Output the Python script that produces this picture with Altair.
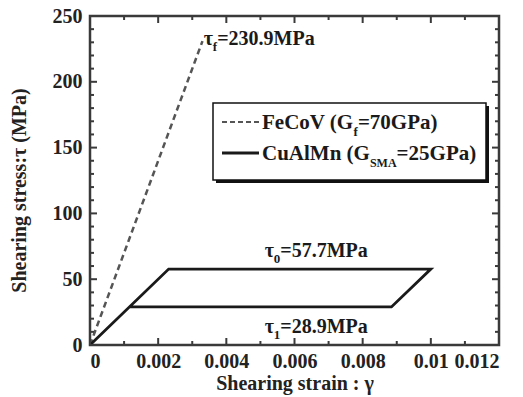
import altair as alt
import pandas as pd

# ---- data ----
fecov_strain = [0.0, 0.0033]
fecov_stress = [0.0, 230.9]
sma_strain = [0.0, 0.002308, 0.01, 0.008844, 0.001156]
sma_stress = [0.0, 57.7, 57.7, 28.9, 28.9]
x_major = [0, 0.002, 0.004, 0.006, 0.008, 0.01, 0.012]
x_minor = [0.001, 0.003, 0.005, 0.007, 0.009, 0.011]
y_major = [0, 50, 100, 150, 200, 250]
y_minor = [10, 20, 30, 40, 60, 70, 80, 90, 110, 120, 130, 140, 160, 170, 180, 190, 210, 220, 230, 240]

FONT = "Liberation Serif"
AX = "#3a3a3a"
INK = "#1a1a1a"
W, H = 409, 329

# approximate advance widths (em) of Times/Liberation Serif Bold, used to chain sub-scripted text pieces
EM = {"F": .611, "e": .444, "C": .722, "o": .5, "V": .722, " ": .25, "(": .333, "G": .778, "f": .333,
      "=": .570, "P": .611, "a": .5, ")": .333, "u": .556, "A": .722, "l": .278, "M": .944, "n": .556,
      "S": .556, ".": .25, "τ": .45}


def tw(s, size):
    return sum(EM.get(c, .5) for c in s) * size


fe = pd.DataFrame({"strain": fecov_strain, "stress": fecov_stress})
sma = pd.DataFrame({"strain": sma_strain, "stress": sma_stress, "o": list(range(len(sma_strain)))})

xs = alt.Scale(domain=[0, 0.012], nice=False, zero=False)
ys = alt.Scale(domain=[0, 250], nice=False, zero=False)


def X(axis, f="strain"):
    return alt.X(f + ":Q", scale=xs, axis=axis)


def Y(axis, f="stress"):
    return alt.Y(f + ":Q", scale=ys, axis=axis)


main_x = alt.Axis(orient="bottom", values=x_major, format="~g", domain=False, ticks=False, grid=False,
                  labelFont=FONT, labelFontSize=20, labelFontWeight="bold", labelColor="#222",
                  labelPadding=6, title="Shearing strain : γ", titleFont=FONT, titleFontSize=20,
                  titleFontWeight="bold", titleColor="#222", titlePadding=2)
main_y = alt.Axis(orient="left", values=y_major, domain=False, ticks=False, grid=False,
                  labelFont=FONT, labelFontSize=20, labelFontWeight="bold", labelColor="#222",
                  labelPadding=8, title="Shearing stress:τ (MPa)", titleFont=FONT, titleFontSize=20,
                  titleFontWeight="bold", titleColor="#222", titleX=-71, titleY=174,
                  titleBaseline="middle", titleAlign="center", titleAngle=270)

fe_line = alt.Chart(fe).mark_line(color="#555", strokeWidth=2.5, strokeDash=[6, 4]).encode(
    x=X(main_x), y=Y(main_y))
sma_line = alt.Chart(sma).mark_line(color=INK, strokeWidth=2.8).encode(
    x=X(None), y=Y(None), order="o:Q")

# ---- inward ticks on all four sides ----
tick_layers = []
for vals, size in ((x_major, 7), (x_minor, 4)):
    d = pd.DataFrame({"v": vals})
    c = alt.Chart(d).mark_rule(color=AX, strokeWidth=2)
    tick_layers.append(c.encode(x=X(None, "v"), y=alt.value(H), y2=alt.value(H - size)))
    tick_layers.append(c.encode(x=X(None, "v"), y=alt.value(0), y2=alt.value(size)))
for vals, size in ((y_major, 7), (y_minor, 4)):
    d = pd.DataFrame({"v": vals})
    c = alt.Chart(d).mark_rule(color=AX, strokeWidth=2)
    tick_layers.append(c.encode(y=Y(None, "v"), x=alt.value(0), x2=alt.value(size)))
    tick_layers.append(c.encode(y=Y(None, "v"), x=alt.value(W), x2=alt.value(W - size)))

# ---- annotations (subscripted tau labels) ----
one = pd.DataFrame({"k": [0]})
common = dict(font=FONT, fontWeight="bold", color=INK, align="left", baseline="alphabetic")


def annotation(xv, yv, sub, rest):
    d = pd.DataFrame({"strain": [xv], "stress": [yv]})
    base = alt.Chart(d)
    d1 = tw("τ", 20)
    d2 = d1 + tw(sub, 13)
    t1 = base.mark_text(fontSize=20, **common).encode(x=X(None), y=Y(None), text=alt.value("τ"))
    t2 = base.mark_text(fontSize=13, dx=d1, dy=6, **common).encode(x=X(None), y=Y(None), text=alt.value(sub))
    t3 = base.mark_text(fontSize=20, dx=d2, **common).encode(x=X(None), y=Y(None), text=alt.value(rest))
    return [t1, t2, t3]


ann = []
ann += annotation(0.00334, 228.0, "f", "=230.9MPa")
ann += annotation(0.00513, 66.9, "0", "=57.7MPa")
ann += annotation(0.00513, 9.1, "1", "=28.9MPa")

# ---- legend (drawn by hand, pixel positions inside plot area) ----
lx0, ly0, lx1, ly1 = 213 - 90, 103 - 16, 486 - 90, 180 - 16
shadow = alt.Chart(one).mark_rect(color="#111").encode(
    x=alt.value(lx0 + 3), x2=alt.value(lx1 + 3), y=alt.value(ly0 + 3), y2=alt.value(ly1 + 3))
box = alt.Chart(one).mark_rect(fill="white", stroke="#111", strokeWidth=1.5).encode(
    x=alt.value(lx0), x2=alt.value(lx1), y=alt.value(ly0), y2=alt.value(ly1))
leg_dash = alt.Chart(one).mark_rule(color="#555", strokeWidth=2, strokeDash=[5, 3]).encode(
    x=alt.value(222 - 90), x2=alt.value(259 - 90), y=alt.value(122 - 16))
leg_solid = alt.Chart(one).mark_rule(color=INK, strokeWidth=2.8).encode(
    x=alt.value(222 - 90), x2=alt.value(259 - 90), y=alt.value(153 - 16))


def ltext(px, py, txt, size):
    return alt.Chart(one).mark_text(fontSize=size, **common).encode(
        x=alt.value(px - 90), y=alt.value(py - 16), text=alt.value(txt))


LS, SS = 21, 13
x0 = 262
a1 = x0 + tw("FeCoV (G", LS)
a2 = a1 + tw("f", SS)
b1 = x0 + tw("CuAlMn (G", LS)
b2 = b1 + tw("SMA", 12)
legend = [shadow, box, leg_dash, leg_solid,
          ltext(x0, 129, "FeCoV (G", LS), ltext(a1, 136, "f", SS), ltext(a2, 129, "=70GPa)", LS),
          ltext(x0, 160, "CuAlMn (G", LS), ltext(b1, 167, "SMA", 12), ltext(b2, 160, "=25GPa)", LS)]

chart = alt.layer(fe_line, sma_line, *tick_layers, *ann, *legend).resolve_axis(
    x="independent", y="independent").properties(
    width=W, height=H, autosize=alt.AutoSizeParams(type="none"),
    padding={"left": 90, "top": 16, "right": 24, "bottom": 52},
    background="white").configure_view(stroke=AX, strokeWidth=2.5)

chart.save("out.html", embed_options={"renderer": "svg", "actions": False})
